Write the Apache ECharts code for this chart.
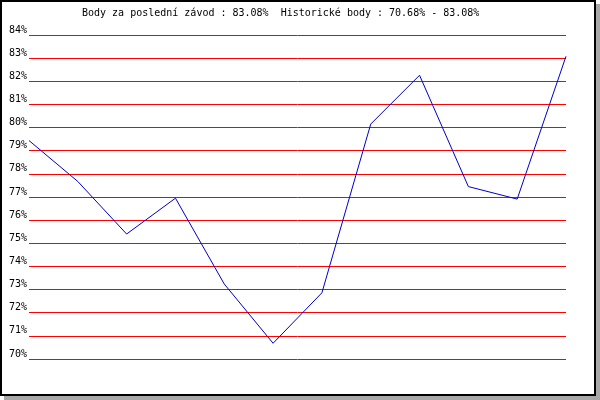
<!DOCTYPE html>
<html>
<head>
<meta charset="utf-8">
<script src="https://cdn.jsdelivr.net/npm/echarts@6/dist/echarts.min.js"></script>
<style>
html,body{margin:0;padding:0;background:#fff;}
#c{position:absolute;left:0;top:0;width:600px;height:400px;}
#frame{position:absolute;left:0;top:0;width:592px;height:392px;border:2px solid #000;box-shadow:4px 4px 0 #a8a8a8;pointer-events:none;}
</style>
</head>
<body>
<div id="c"></div>
<div id="frame"></div>
<script>
const titleText = 'Body za poslední závod : 83.08%  Historické body : 70.68% - 83.08%';
const races = ['1','2','3','4','5','6','7','8','9','10','11','12'];
const points = [79.44, 77.67, 75.40, 76.95, 73.24, 70.68, 72.86, 80.15, 82.26, 77.45, 76.91, 83.08];
const yMin = 70, yMax = 84, yStep = 1;

const chart = echarts.init(document.getElementById('c'), null, {renderer:'canvas'});
chart.setOption({
  animation:false,
  backgroundColor:'#fff',
  title:{
    text:titleText,
    left:82, top:8, padding:0,
    textStyle:{fontFamily:'DejaVu Sans Mono', fontSize:10, fontWeight:'normal', color:'#000'}
  },
  grid:{left:29, right:34, top:35, bottom:41},
  xAxis:{
    type:'category', data:races, boundaryGap:false,
    axisLine:{show:false}, axisTick:{show:false}, axisLabel:{show:false}, splitLine:{show:false}
  },
  yAxis:{
    type:'value', min:yMin, max:yMax, interval:yStep,
    axisLine:{show:false}, axisTick:{show:false},
    axisLabel:{
      formatter:v=>v+'%', margin:2, verticalAlign:'bottom',
      fontFamily:'DejaVu Sans Mono', fontSize:10, color:'#000'
    },
    splitLine:{show:true, lineStyle:{color:'#ff0000', width:1}}
  },
  series:[{
    type:'line', data:points, symbol:'none',
    lineStyle:{color:'#0000cc', width:1}
  }]
});
</script>
</body>
</html>
